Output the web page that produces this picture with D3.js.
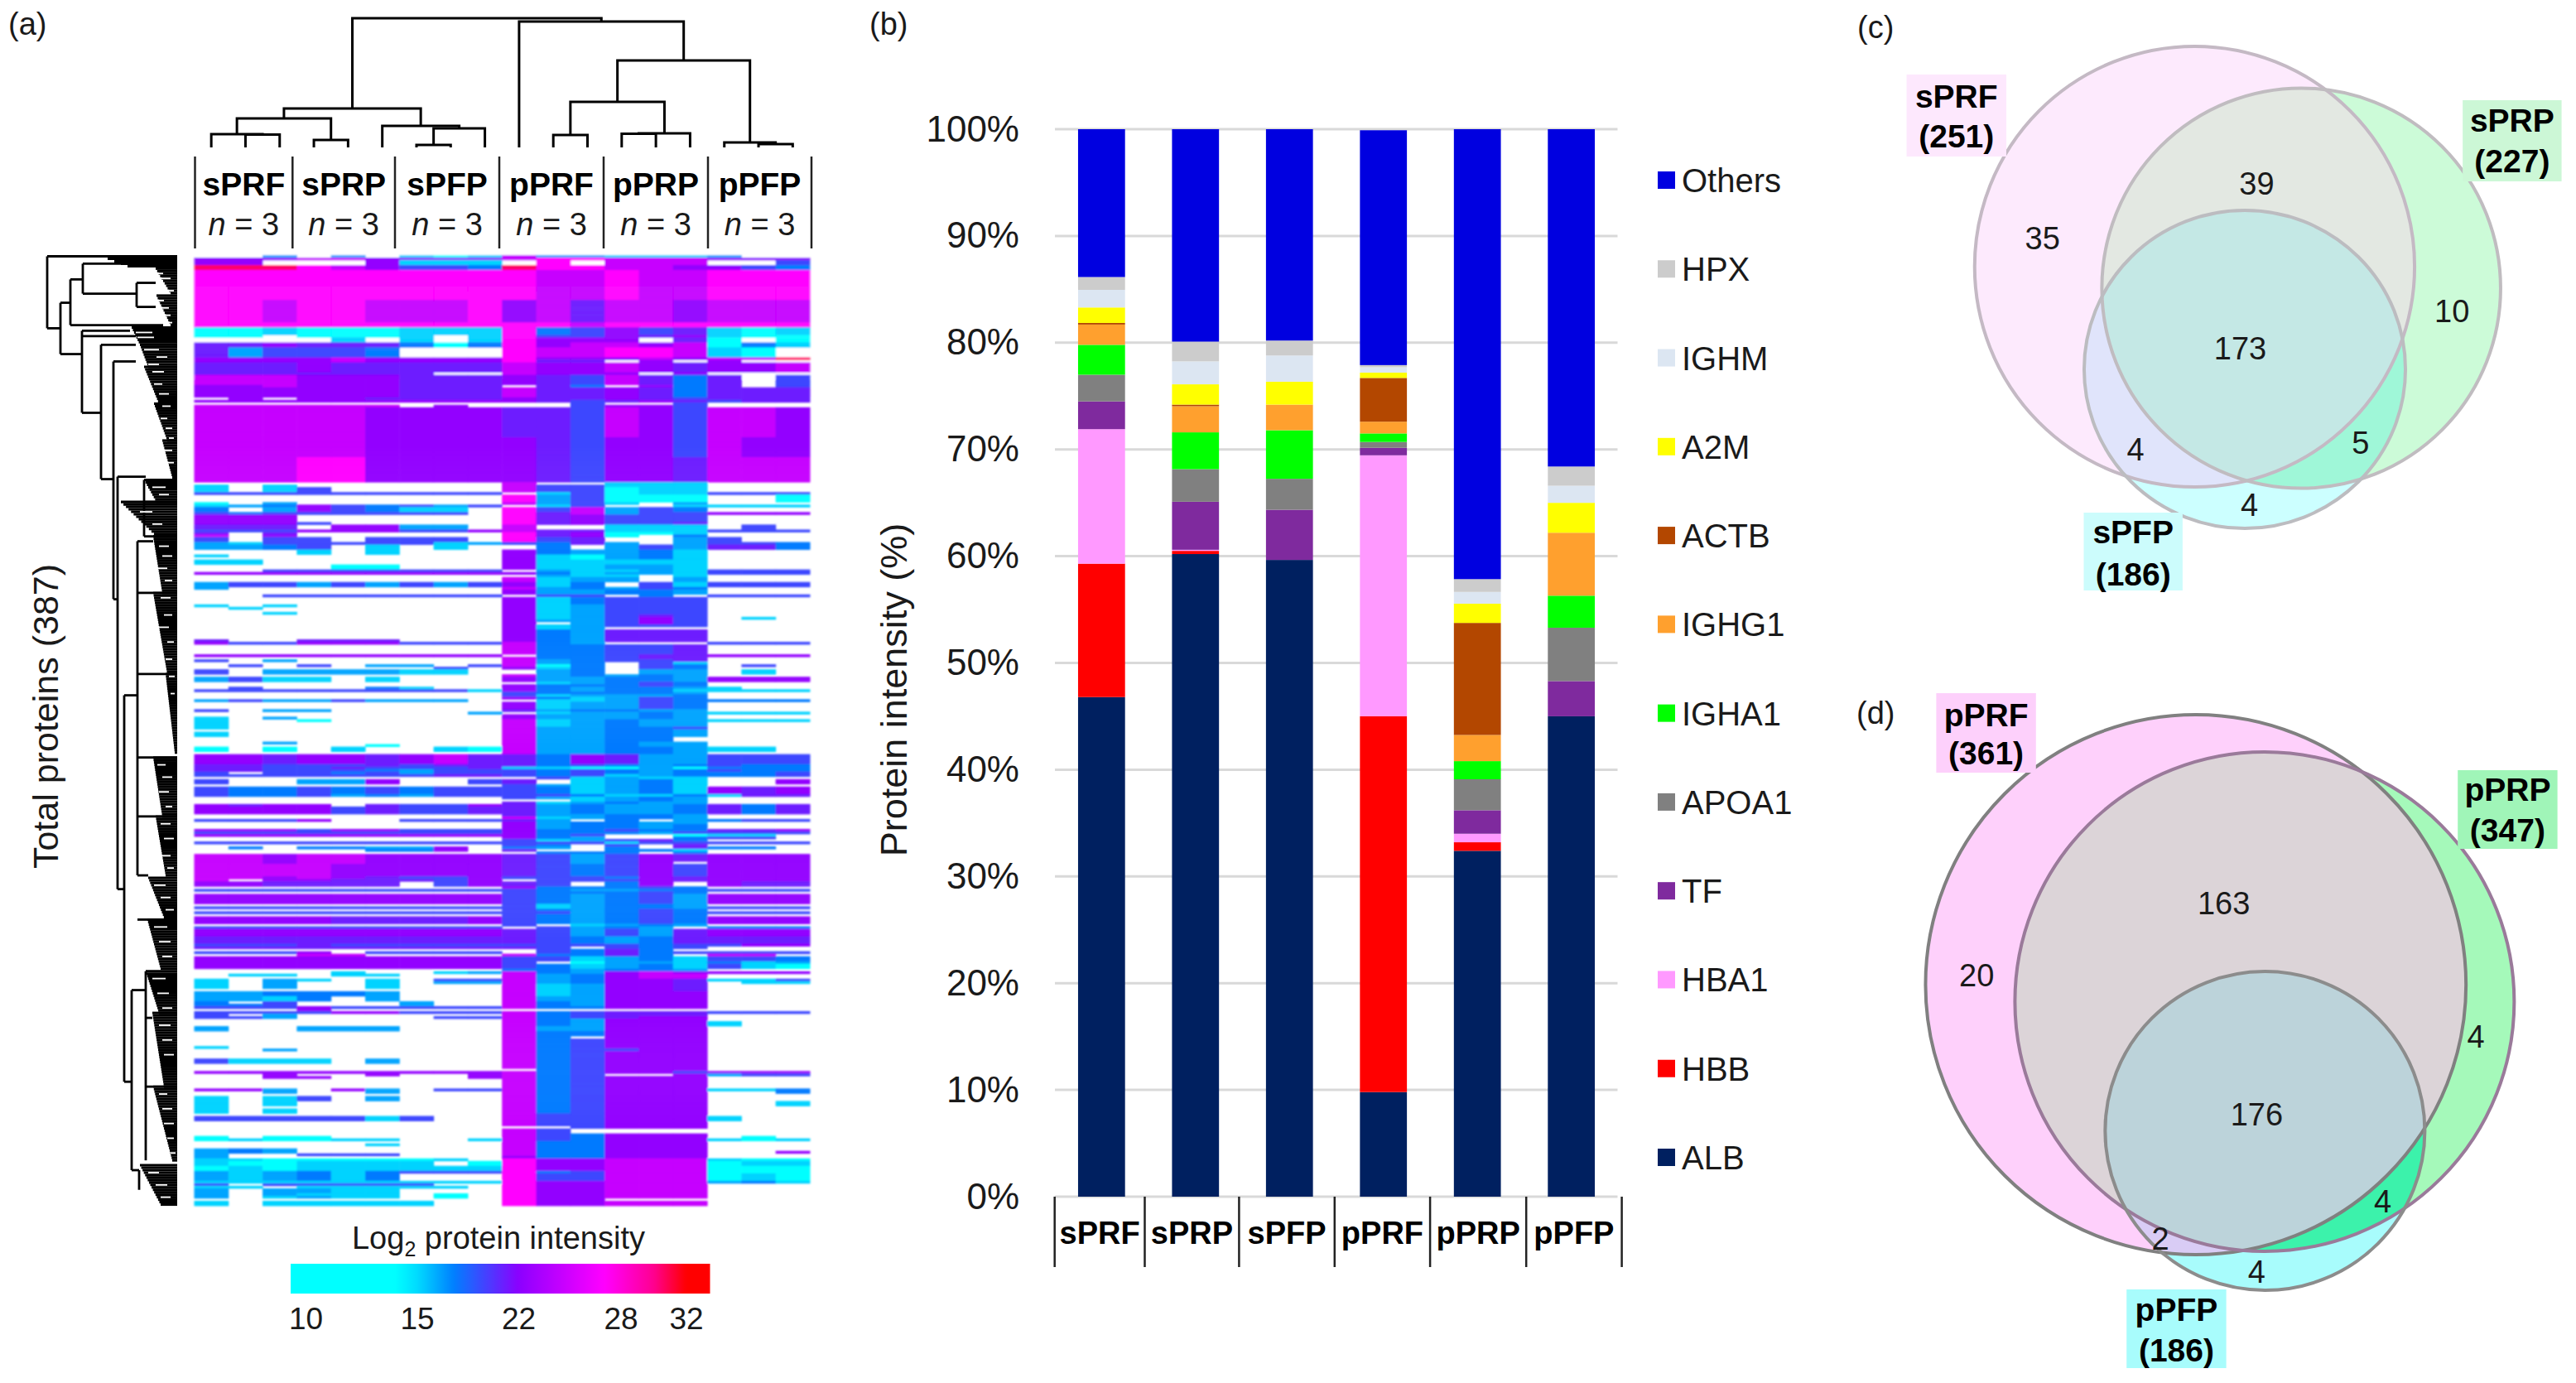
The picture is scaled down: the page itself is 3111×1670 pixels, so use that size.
<!DOCTYPE html>
<html><head><meta charset="utf-8">
<script src="https://cdnjs.cloudflare.com/ajax/libs/d3/7.8.5/d3.min.js"></script>
<style>html,body{margin:0;padding:0;background:#fff}svg{display:block}text{font-family:"Liberation Sans",Arial,sans-serif;fill:#1a1a1a}.b{font-weight:bold;fill:#000}</style>
</head><body><svg id="c" width="3111" height="1670"></svg>
<script>
/* ---------- data ---------- */
const groups = ["sPRF","sPRP","sPFP","pPRF","pPRP","pPFP"];
const legendTicks = [10,15,22,28,32];
// log2 intensity represented by each heat-map code letter ('.' = not detected)
const heatCodes = {c:11,d:15.2,e:16.5,f:17.7,g:19.5,h:21,i:22.3,j:24.5,k:27,l:28.5,m:30.5};
// [rows, 18 column codes] from the top of the heat map to the bottom
const heatBands = [
[1,"..e.e.dcdjeeddde.."],[1,"iiijjiiiijkkjjjiii"],[2,"ii...iddd.k.jjj..g"],[2,"mmmkjiggfmkkjjiigf"],
[12,"kkkkkkkkkkjjkjjkkk"],[9,"kkjkkjjjkijhjjijjj"],[2,"kkkkkkkkkkkjkkkkkk"],[3,"ccdcccdddkfgighdcd"],
[1,"cc.cccd.dkggihidcc"],[2,"....d.d.dkiii.hc.c"],[2,"hhihhhfcfkijjijcfd"],[4,"hegggf...kjjkkjdc."],
[1,"iiiijiiiikiiijijjm"],[1,"iiiijiiiikhh.i.i.."],[4,"hhhihhhhhjiijihiij"],[1,"hhhhhhh..jiii.i..."],
[4,"jjjiiihhhihgjhfh.g"],[1,"iijiiihhh.hf.ifh.g"],[4,"iiiiiihhhjhhihfhhh"],[1,".i.iihhhhihhihghhh"],
[1,"iiiiiiiiiihghihghh"],[1,"...........g..g..."],[1,"jjjjjj.i...giig..."],[12,"jjjjjiiiihhgjigjji"],
[8,"jjjjjiiiiihgiigjii"],[10,"jjjkkiiiiihgiihjjj"],
[1,".........j..ddd..."],[1,"d.d......jggddd..."],[2,"d.dg.....jggcdd..."],[1,"ggggggggg.dgcddggg"],
[3,".........kegccc..c"],[1,"c.e......jegd.e..."],[1,"defigfgeg.dg..dddd"],[2,"f.eigfdd.kgjegf..."],
[1,"gfgggggg.khjeggiii"],[3,"iii......khiggg..."],[1,"iiig.....khiggh..."],[2,"hhh.iiee.j..ddd.g."],
[1,"gggiiiggijhhdddggg"],[1,"h.h......khiccd..."],[1,"j.i......khic.f..."],[2,"g.gg.ggg.kgh..eg.."],
[1,"edgggggdegfhe.eggf"],[2,"eefg.d.d..f.egehhf"],[2,"...d.d...ifeefd..."],[1,"d........idcefd..."],
[1,".........idcefd..."],[2,"dd.......iddddd..."],[2,"....cc...iddeed..."],[1,"..ggggggg.eddedggg"],
[1,"iiiiiiiiiifdeedggg"],[1,"..........edd.d..."],[2,".........jdee.e..."],[2,"eggegegegidf.gdggg"],
[1,"e........jefegf..."],[2,".........ieeffe..."],[1,"..ggggggg.gg.f.ggg"],[3,".........idfggg..."],
[1,"d.d......ideggg..."],[1,".d.......ideggg..."],[1,".........ideggg..."],[1,"..d......ideggg..."],
[1,".........ideghg..."],[1,".........idegig.d."],[1,".........ieegig..."],[1,".........i.egig..."],
[1,".........ideggg..."],[1,".........ide......"],[4,".........ifehhh..."],[1,"h..hhh...ifehhh..."],
[1,"iggiiigggjfe...ggg"],[4,".........jffggh..."],[1,"iiiiiiiii.ffghhiii"],[1,".........jffghh..."],
[1,"g.e......jefggh..."],[1,".........jef.gd..."],[1,".g.g.ee.gjcf.gf.g."],[1,".......g.idf.gf..."],
[2,"g.eeeedd..ef.ee.d."],[1,".........jefefe..."],[2,"egdd.d...ieeffeiii"],[1,"..........defgf..."],
[1,".........ifffgf..."],[1,".g...fd..ifeffed.."],[1,"ggggggggdifeffdddd"],[1,".........gffffe..."],
[1,".........gdeeef..."],[1,".........ifdegf..."],[1,"egeegeee..ddegffff"],[3,".........ideegf..."],
[1,"g.ee.....heffee..."],[1,"........e.deefeddd"],[1,".........ieeefe..."],[1,"d.e......ieeefe..."],
[1,"d..c.....jdefeeddd"],[2,"d........jdefee..."],[1,"d........jeeffg..."],[1,".........jeeffe..."],
[2,"d........jeeffe..."],[2,".........jeeff...."],[1,"..e......jeefee..."],[1,".....c...jeefee..."],
[2,"c.c.d..dcjeeffedd."],[1,".........jeeffe..."],[4,"iihiihijhhfiheeggg"],
[1,"hhggghghhhfgfefgff"],[1,"hhgghggghddccecfff"],[1,"hhgggfegggfgfefgff"],[1,"g.ggfgegggfgfefffg"],
[1,"ggggggghhgfgdefffg"],[1,"..........gdedd..."],[2,"g..eei..gh.defd..i"],[1,".........gedefd..."],
[3,"gffgfgfgggfdefdihi"],[1,"gffgefeggggfddfdhh"],[1,".........gedefe..."],[1,"...........defe..."],
[1,".........hdefee..."],[1,"ihii.hggihefeefhfh"],[3,"iiiighgghhefeefhfh"],[1,".........heeffe..."],
[1,".........jdeffe..."],[1,"gggi..ggghe.f.efgg"],[1,".........ieffee..."],[2,".........ieffef..."],
[1,"iiigiigggiffgffhhi"],[1,"gggggggggifffegggg"],[1,"iiiiiiiiiifg..cdd."],[1,".........ife..fgg."],
[1,".........gdeghf..."],[1,"ggggggggggggdggggg"],[1,".........gf.g.h..."],[1,".f.ffeei.fe.f.hff."],
[1,".....ffi.h..ffd..."],[1,"..........fff.f..."],[3,"jjijjiiiihgegihiii"],[1,"jjijjiiiihgegi.iii"],
[5,"jjjjiiiiihgfgigiii"],[1,"jjijihggigggfihiii"],[1,"j.iihhhgi.gggihiii"],[2,"iihhhh.gihg.fi.ihh"],
[1,".........ifffgf..."],[1,"ggggggggggfeeffggg"],[1,".........gfffgf..."],[4,"iiiiiiiiigfefgeiii"],
[1,".........gdeffe..."],[1,"ggggggggggdeffeggg"],[1,".........gfefgf..."],[1,"gggggggggggefgfggg"],
[1,".........gfefgf..."],[3,"iiiihhhhigfefgfiii"],
[1,".........g.defe..."],[1,"ggggggggg.gefe.fff"],[3,"iiiiiiiiihgegehiii"],[3,"hhhhhhhhhhgfefhhhh"],
[1,"ggghgggggggggfggii"],[1,"hhhhhhhhhhg.gfg..."],[1,"..........gfhf...."],[1,"gggi.gggg.gfhfgggg"],
[1,"...jj....jffhf.jj."],[2,"iiiiiiiiiggdefdggf"],[1,"iiiiiiiiig.ceedfde"],[2,"iiiiiiiiigfdefdgdc"],
[1,".........ffeffe..."],[1,"....d..dejfeijiiii"],[1,".dd.dd...jefijj..."],[1,".........jefijj..."],
[1,"d.ed.d.ggjefiihddg"],[1,"d.e..d.eejefiih.dd"],[2,"d.e..d...jdeiih..."],[1,".........jdeiih..."],
[2,"eefffe...jdeiii..."],[2,"eedf.e...jeeiii..."],[1,"f.g...e..jfeiii..."],[1,"ffg...e..jfeiii..."],
[1,"gggigggggjffiii..."],[1,"...i.............."],[1,"ggggiigggjfghhhggg"],[1,"g.e......jfghhh..."],
[1,"gge....ggjfghii..."],[1,".........jfeiii..."],[2,".........jfeiiid.."],[2,"e..eee...jeeiii..."],
[2,".........jffiii..."],[1,".........jf.iii..."],[3,".........jfgiii..."],[1,"d........jfgiii..."],
[1,"..e......jfggii..."],[3,".........jfgiii..."],[2,"gddd.e...jfgiii..."],[2,".........jfgiii..."],
[1,"..........fgiii..."],[1,"iiiiiiiiijfgiigiii"],[1,"..i..i..ijfg..iegg"],[1,"..ii....ijfgiii..."],
[4,".........jfgiii..."],[1,"iie.ie.ggjfgiiiddf"],[1,"..e..e...jfgiii..f"],[1,".........jfgiii..."],
[2,"d.dg.e...jfgiii..."],[2,"d.d......jfgiii..d"],[1,"d........jfgiii..."],[2,"d.d......jfgiii..."],
[1,".........jggiii..."],[2,"gggggdg..jggiiid.."],[2,".........jggiii..."],[1,"...........giii..."],
[2,".........jg......."],[1,".........jgfiii..."],[1,"c.cc.....jgfiii.c."],[1,"cdccdd..djgfiiidcd"],
[1,".........jffiii..."],[1,".....d...jffiii..."],[1,".........jffiii..."],[1,"efe......jffiii..."],
[1,"efe......jffiii..i"],[1,"e..ggg...jffiii..."],[1,"e........iffiii..."],[1,"ddcccccd.kiijjjdcc"],
[2,"dccdddd.ckiijjjcdd"],[2,"cdcddddddkiijjjccc"],[1,"edefdfgggkfgjjjccc"],[3,"edefdf...kggjjjcdc"],
[1,"dddddddddkiijjjefd"],[1,"g.ggggg..kiijjj..."],[1,"dd.ddddd.kiijjj..."],[2,"e.eedd...kiijjj..."],
[1,"e.eddd.c.kiijjj..."],[1,"e.dedd.c.kiijjj..."],[1,".........kii......"],[2,"d.ddddd..kiijjj..."]
];
// hierarchical tree over the 18 columns: [height, left, right]; numbers are columns
const columnTree = [156,[47,[35,[16,0,[15.5,1,2]],[9,3,4]],[26,5,[23,[3,6,7],8]]],[152,9,[105,[55,[15,10,11],[17,[16.5,12,13],14]],[6,15,[4,16,17]]]]];
// row tree, in distance / row units
const rowSpines = [[157,0,29.3],[141,18.9,39.8],[129,9.4,28],[114,3,15.2],[49,10.8,20.6],[115,30.3,63.7],[92,36,90.7],[77,42.8,139.6],[72,89.7,257.6],[64,178.7,336],[55,298.7,372],[48,116,252],[40,91,114],[38,291,368],[46,372,380]];
const rowLinks = [[0,157,0],[29.3,157,141],[18.9,141,129],[39.8,141,115],[9.4,129,114],[28,129,17],[3,114,0],[15.2,114,49],[10.8,49,26],[20.6,49,26],[30.3,115,57],[32.5,115,50],[63.7,115,92],[36,92,50],[90.7,92,77],[42.8,77,50],[139.6,77,72],[89.7,72,38],[257.6,72,64],[178.7,64,48],[336,64,55],[298.7,55,38],[372,55,46],[116,48,29],[137,48,29],[170,48,14],[204,48,29],[228,48,26],[252,48,35],[310,38,30],[338,38,29],[270,48,36],[114,40,25],[100,40,25]];
const rowClusters = [[1,4,84,60],[5,15,26,8],[16,28,25,8],[29,36,55,45],[36,45,45,35],[45,60,40,22],[60,75,28,12],[75,90,18,6],[91,100,40,25],[100,114,68,25],[114,137,29,18],[137,170,29,12],[170,202,14,3],[204,228,29,18],[228,252,26,14],[253,270,35,15],[270,290,36,20],[291,308,38,22],[308,338,30,16],[338,368,29,6],[370,386,45,20]];
// white flecks inside the dense leaf area [row, from distance, to distance]
const rowGaps = [[7,25,17],[9,20,8],[12,24,14],[14,12,4],[18,26,16],[21,24,10],[24,18,8],[27,15,6],[31,50,30],[33,48,28],[38,40,22],[41,25,12],[44,35,22],[47,30,16],[52,28,18],[56,22,10],[61,18,8],[66,20,12],[70,14,6],[74,10,4],[79,16,6],[84,12,4],[88,14,8],[94,30,14],[97,22,10],[104,45,30],[109,30,18],[118,22,10],[122,18,6],[127,25,12],[132,15,6],[139,20,8],[146,16,6],[151,22,10],[157,12,4],[164,14,6],[171,10,3],[178,8,3],[207,24,14],[212,18,6],[218,22,10],[224,14,6],[231,20,8],[237,16,4],[244,18,8],[249,12,4],[256,28,14],[261,20,8],[266,14,4],[273,28,12],[279,22,8],[285,18,6],[294,30,14],[300,24,10],[306,18,6],[313,22,8],[319,18,6],[325,16,4],[341,22,12],[347,18,6],[353,16,4],[359,12,4],[365,8,2],[373,35,22],[378,26,12],[383,20,8]];

const proteins = ["ALB","HBB","HBA1","TF","APOA1","IGHA1","IGHG1","ACTB","A2M","IGHM","HPX","Others"];
const proteinColors = ["#002060","#ff0000","#ff99ff","#7f2a9e","#808080","#00ff00","#ffa02e","#b34700","#ffff00","#dce6f2","#cccccc","#0000e0"];
const valALB   = [46.8,60.2,59.65,9.8,32.4,45];
const valHBB   = [12.5,0.3,0,35.2,0.8,0];
const valHBA1  = [12.6,0.1,0,24.45,0.8,0];
const valTF    = [2.6,4.5,4.7,0.7,2.2,3.3];
const valAPOA1 = [2.5,3.05,2.9,0.55,2.9,5];
const valIGHA1 = [2.8,3.45,4.55,0.8,1.7,3];
const valIGHG1 = [1.9,2.45,2.4,1.1,2.45,5.9];
const valACTB  = [0.15,0.15,0,4.1,10.5,0];
const valA2M   = [1.45,1.9,2.15,0.5,1.8,2.8];
const valIGHM  = [1.65,2.15,2.45,0.5,1.1,1.6];
const valHPX   = [1.2,1.85,1.4,0.2,1.2,1.8];
const valOthers= [13.85,19.9,19.8,22,42.15,31.6];
const seriesValues = [valALB,valHBB,valHBA1,valTF,valAPOA1,valIGHA1,valIGHG1,valACTB,valA2M,valIGHM,valHPX,valOthers];
const percentTicks = [0,10,20,30,40,50,60,70,80,90,100];

const vennC = {names:["sPRF","sPRP","sPFP"],totals:[251,227,186],counts:[35,39,173,10,4,5,4]};
const vennD = {names:["pPRF","pPRP","pPFP"],totals:[361,347,186],counts:[20,163,176,4,4,2,4]};

/* ---------- page ---------- */
const svg = d3.select("#c");
const txt = (s,x,y,size,o={})=>{const t=svg.append("text").attr("x",x).attr("y",y).attr("font-size",size).attr("text-anchor",o.a||"middle").text(s);if(o.b)t.attr("class","b");if(o.i)t.attr("font-style","italic");if(o.r)t.attr("transform",`rotate(-90 ${x} ${y})`);return t;};
txt("(a)",10,42,38,{a:"start"});txt("(b)",1050,42,38,{a:"start"});txt("(c)",2243,46,38,{a:"start"});txt("(d)",2242,874,38,{a:"start"});

/* ---------- heat map ---------- */
const rowCodes = heatBands.flatMap(([n,s])=>d3.range(n).map(()=>s.padEnd(18,".").slice(0,18)));
const colX = d3.scaleBand().domain(d3.range(18)).range([234.5,978]);
const rowY = d3.scaleBand().domain(d3.range(rowCodes.length)).range([308,1456]);
const heatColor = d3.scaleLinear().domain([10,14,17.5,22,27,30,32]).range(["#00ffff","#00ffff","#0080ff","#8c00ff","#ff00ff","#ff0090","#ff0000"]).clamp(true);
const defs = svg.append("defs");
defs.append("filter").attr("id","soft").append("feGaussianBlur").attr("stdDeviation",0.9);
defs.append("filter").attr("id","soft2").append("feGaussianBlur").attr("stdDeviation",0.45);
const heat = svg.append("g").attr("filter","url(#soft)");
heat.append("rect").attr("x",234).attr("y",306).attr("width",745).attr("height",152).attr("fill","#fff");
rowCodes.forEach((codes,r)=>{
  heat.selectAll(null).data(codes.split("").map((c,i)=>({c,i})).filter(d=>d.c!=="."))
   .join("rect").attr("x",d=>colX(d.i)).attr("y",rowY(r)).attr("width",colX.bandwidth()+.5).attr("height",rowY.bandwidth()+.4)
   .attr("fill",d=>heatColor(heatCodes[d.c]));
});
// header
const groupEdges = [235.5,353.3,477,603,729,855,980];
svg.selectAll(".hdr").data(groupEdges).join("line").attr("x1",d=>d).attr("x2",d=>d).attr("y1",189).attr("y2",300).attr("stroke","#222").attr("stroke-width",2.5);
groups.forEach((g,i)=>{const cx=(groupEdges[i]+groupEdges[i+1])/2;
  txt(g,cx,236,39,{b:1});
  const t=txt("",cx,284,38);t.append("tspan").attr("font-style","italic").text("n");t.append("tspan").text(" = 3");
});
// top tree
const topH = d3.scaleLinear().domain([0,156]).range([178,22]);
const topG = svg.append("g").attr("fill","none").attr("stroke","#000").attr("stroke-width",3);
function place(n){ if(typeof n==="number") return {x:colX(n)+colX.bandwidth()/2,h:0};
  const a=place(n[1]),b=place(n[2]),x=(a.x+b.x)/2;
  topG.append("path").attr("d",`M${a.x},${topH(a.h)}V${topH(n[0])}H${b.x}V${topH(b.h)}`);
  return {x,h:n[0]}; }
place(columnTree);
// left tree
const distX = d3.scaleLinear().domain([0,157]).range([214,57]);
const rowPos = r=>308+r*(1148/387)+1.5;
const leftG = svg.append("g").attr("fill","none").attr("stroke","#000").attr("stroke-width",2.8).attr("filter","url(#soft2)");
leftG.selectAll(".v").data(rowSpines).join("line").attr("x1",d=>distX(d[0])).attr("x2",d=>distX(d[0])).attr("y1",d=>rowPos(d[1])).attr("y2",d=>rowPos(d[2]));
leftG.selectAll(".h").data(rowLinks).join("line").attr("y1",d=>rowPos(d[0])).attr("y2",d=>rowPos(d[0])).attr("x1",d=>distX(d[1])).attr("x2",d=>distX(d[2]));
rowClusters.forEach(([r0,r1,d0,d1])=>{
  const depth=d3.scaleLinear().domain([r0,r1]).range([d0,d1]);
  d3.range(r0,r1+1).forEach(r=>{
    leftG.append("line").attr("stroke-width",3.1).attr("x1",distX(depth(r))).attr("x2",214).attr("y1",rowPos(r)).attr("y2",rowPos(r));
  });
});
leftG.selectAll(".g").data(rowGaps).join("line").attr("stroke","#fff").attr("stroke-width",1.8).attr("y1",d=>rowPos(d[0])).attr("y2",d=>rowPos(d[0])).attr("x1",d=>distX(d[1])).attr("x2",d=>distX(d[2]));
txt("Total proteins (387)",70,865,43,{r:1});
// colour legend
const legendX = d3.scaleLinear().domain(legendTicks).range([369.5,504,626.5,750,829]);
const grad = defs.append("linearGradient").attr("id","lg");
d3.range(0,1.001,0.01).forEach(t=>grad.append("stop").attr("offset",t).attr("stop-color",heatColor(legendX.invert(351+t*506.5))));
svg.append("rect").attr("x",351).attr("y",1526).attr("width",506.5).attr("height",36).attr("fill","url(#lg)");
legendTicks.forEach(v=>txt(v,legendX(v),1605,37));
{const t=txt("",602,1508,38);t.append("tspan").text("Log");t.append("tspan").attr("font-size",25).attr("dy",9).text("2");t.append("tspan").attr("dy",-9).text(" protein intensity");}

/* ---------- stacked bars ---------- */
const x = d3.scaleBand().domain(groups).range([1273.6,1954.4]).paddingInner(0.5).paddingOuter(0.25);
const y = d3.scaleLinear().domain([0,100]).range([1445,156]);
svg.append("g").selectAll("line").data(percentTicks).join("line").attr("x1",1274).attr("x2",1953.5).attr("y1",d=>y(d)).attr("y2",d=>y(d)).attr("stroke","#d9d9d9").attr("stroke-width",3);
const yAxis = d3.axisLeft(y).tickValues(percentTicks).tickFormat(d=>d+"%").tickSize(0).tickPadding(0);
const ya = svg.append("g").attr("transform","translate(1231,0)").call(yAxis);
ya.select(".domain").remove();
ya.selectAll("text").attr("font-size",44).attr("font-family",'"Liberation Sans",Arial,sans-serif').attr("fill","#1a1a1a");
const stackData = groups.map((g,i)=>{const o={g};proteins.forEach((p,k)=>o[p]=seriesValues[k][i]);return o;});
const stacked = d3.stack().keys(proteins)(stackData);
svg.append("g").selectAll("g").data(stacked).join("g").attr("fill",(d,i)=>proteinColors[i])
  .selectAll("rect").data(d=>d).join("rect").attr("x",d=>x(d.data.g)).attr("width",x.bandwidth()).attr("y",d=>y(Math.min(100,d[1]))).attr("height",d=>y(d[0])-y(Math.min(100,d[1])));
const catEdges = [1273.7,1382.5,1496.4,1611.8,1727.1,1843.2,1958.6];
svg.selectAll(".ce").data(catEdges).join("line").attr("x1",d=>d).attr("x2",d=>d).attr("y1",1445).attr("y2",1530).attr("stroke","#222").attr("stroke-width",2.5);
groups.forEach((g,i)=>txt(g,(catEdges[i]+catEdges[i+1])/2,1502,38,{b:1}));
txt("Protein intensity (%)",1095,833,45,{r:1});
const legY = d3.scalePoint().domain([...proteins].reverse()).range([218,1398]);
proteins.forEach((p,i)=>{
  svg.append("rect").attr("x",2002).attr("y",legY(p)-11).attr("width",21).attr("height",21).attr("fill",proteinColors[i]);
  txt(p,2031,legY(p)+14,40,{a:"start"});
});

/* ---------- Venn diagrams ---------- */
const vx = d3.scaleLinear().domain([2220,3111]).range([2220,3106.5]);
function venn(id,data,circles,fills,strokes,boxes,numPos){
  const g=svg.append("g");
  const cid=i=>`${id}c${i}`;
  const put=(sel,c)=>sel.attr("cx",vx(c[0])).attr("cy",c[1]).attr("rx",c[2]*.995).attr("ry",c[3]);
  circles.forEach((c,i)=>put(defs.append("clipPath").attr("id",cid(i)).append("ellipse"),c));
  const draw=(i,fill,p)=>put(p.append("ellipse"),circles[i]).attr("fill",fill);
  fills.single.forEach((f,i)=>draw(i,f,g));
  draw(1,fills.ab,g.append("g").attr("clip-path",`url(#${cid(0)})`));
  draw(2,fills.ac,g.append("g").attr("clip-path",`url(#${cid(0)})`));
  draw(2,fills.bc,g.append("g").attr("clip-path",`url(#${cid(1)})`));
  draw(2,fills.abc,g.append("g").attr("clip-path",`url(#${cid(0)})`).append("g").attr("clip-path",`url(#${cid(1)})`));
  circles.forEach((c,i)=>put(g.append("ellipse"),c).attr("fill","none").attr("stroke",strokes[i]).attr("stroke-width",4));
  data.names.forEach((n,i)=>{const b=boxes[i];
    svg.append("rect").attr("x",vx(b[0])).attr("y",b[1]).attr("width",b[2]*.995).attr("height",b[3]).attr("fill",fills.box[i]);
    txt(n,vx(b[0]+b[2]/2),b[4],39,{b:1});txt(`(${data.totals[i]})`,vx(b[0]+b[2]/2),b[5],39,{b:1});
  });
  data.counts.forEach((v,i)=>txt(v,vx(numPos[i][0]),numPos[i][1]+13,38));
}
venn("vc",vennC,[[2652.6,322,267,266],[2782,348,242,241.6],[2713.5,446,195,192]],
 {single:["#fdeafd","#ccfbd8","#ccffff"],ab:"#e3e8e2",ac:"#e0e4fb",bc:"#9ff7d8",abc:"#c4e8e5",box:["#fde8fd","#ccf7d6","#ccfcfc"]},
 ["#c4b9c4","#c0bcc0","#bcbcc0"],
 [[2303,90,121,99,130,178],[2978,121,120,98,159,208],[2518,619,120,94,656,707]],
 [[2468,288],[2728,222],[2708,421],[2965,376],[2581,543],[2854,535],[2719,610]]);
venn("vd",vennD,[[2654,1189,328,326],[2737.5,1209.5,303,301.5],[2738,1365.5,194,192.5]],
 {single:["#fed0fb","#a5f9ba","#a8fcfc"],ab:"#dcd4d8",ac:"#d9ccf5",bc:"#3cf2ab",abc:"#bcd3da",box:["#fdd0fb","#a0f5b8","#a8fcfc"]},
 ["#808080","#9a7a9a","#8c8c8c"],
 [[2339,837,121,96,877,923],[2972,930,121,95,967,1016],[2570,1557,121,95,1595,1644]],
 [[2388,1178],[2688,1091],[2728,1346],[2994,1252],[2881,1451],[2611,1496],[2728,1536]]);
</script></body></html>
